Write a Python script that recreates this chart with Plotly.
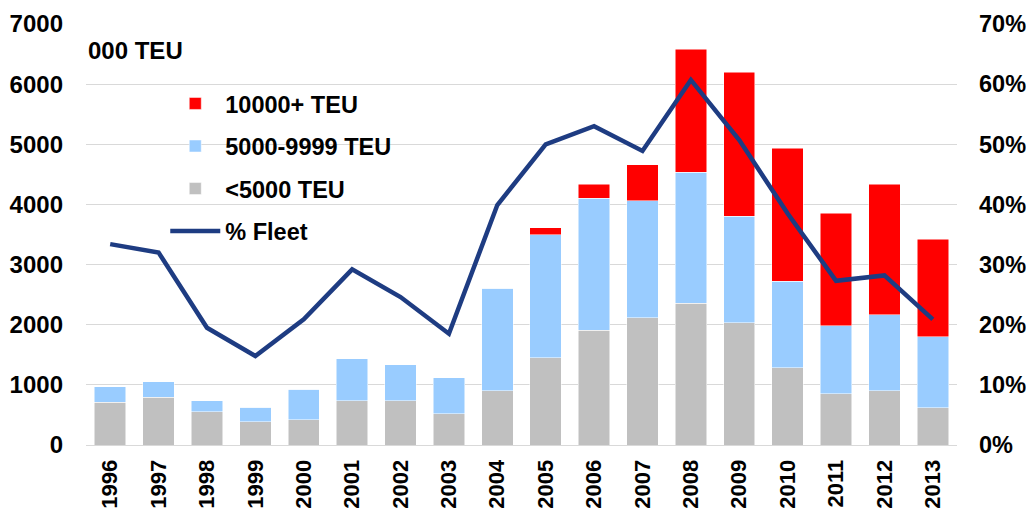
import plotly.graph_objects as go

years = ["1996", "1997", "1998", "1999", "2000", "2001", "2002", "2003", "2004",
         "2005", "2006", "2007", "2008", "2009", "2010", "2011", "2012", "2013"]
small = [710, 793, 555, 389, 416, 732, 732, 522, 905,
         1454, 1908, 2120, 2358, 2030, 1288, 855, 905, 622]
mid = [255, 262, 177, 238, 511, 706, 599, 599, 1702,
       2046, 2192, 1940, 2174, 1775, 1431, 1132, 1258, 1175]
large = [0, 0, 0, 0, 0, 0, 0, 0, 0,
         111, 238, 599, 2047, 2396, 2218, 1863, 2175, 1626]
fleet_pct = [0.334, 0.320, 0.195, 0.148, 0.209, 0.292, 0.246, 0.185, 0.399,
             0.500, 0.530, 0.489, 0.607, 0.507, 0.385, 0.273, 0.282, 0.209]

left_ticks = [0, 1000, 2000, 3000, 4000, 5000, 6000, 7000]
right_ticks = [0, 0.1, 0.2, 0.3, 0.4, 0.5, 0.6, 0.7]

FONT = "Liberation Sans, Arial, sans-serif"
fig = go.Figure()
fig.add_trace(go.Bar(x=years, y=small, name="<5000 TEU", marker_color="#C0C0C0",
                     marker_line=dict(color="white", width=0.5),
                     legendrank=3, legendgroup="c"))
fig.add_trace(go.Bar(x=years, y=mid, name="5000-9999 TEU", marker_color="#99CCFF",
                     marker_line=dict(color="white", width=0.5),
                     legendrank=2, legendgroup="b"))
fig.add_trace(go.Bar(x=years, y=large, name="10000+ TEU", marker_color="#FF0000",
                     marker_line=dict(color="white", width=0.5),
                     legendrank=1, legendgroup="a"))
fig.add_trace(go.Scatter(x=years, y=fleet_pct, name="% Fleet", mode="lines",
                         line=dict(color="#1E3C82", width=4.5), yaxis="y2",
                         legendrank=4, legendgroup="d"))

fig.update_layout(
    width=1026, height=512,
    margin=dict(l=86, r=69, t=24, b=67, autoexpand=False),
    paper_bgcolor="white", plot_bgcolor="white",
    barmode="stack", bargap=0.35,
    font=dict(family=FONT, size=22, color="black"),
    showlegend=True,
    legend=dict(x=0.091, y=0.863, xanchor="left", yanchor="top",
                traceorder="grouped", tracegroupgap=9,
                font=dict(family=FONT, size=23.5, color="black", weight="bold"),
                bgcolor="rgba(0,0,0,0)", itemwidth=50),
    xaxis=dict(type="category", tickangle=-90, showgrid=False, automargin=False,
               showline=True, linecolor="#D9D9D9", linewidth=1,
               tickfont=dict(family=FONT, size=22, weight="bold"),
               ticks="", ticklabelstandoff=5),
    yaxis=dict(range=[0, 7000], tickvals=left_ticks, showgrid=True, automargin=False,
               gridcolor="#D9D9D9", gridwidth=1, zeroline=False, showline=False,
               tickfont=dict(family=FONT, size=24, weight="bold"),
               ticklabelstandoff=22),
    yaxis2=dict(range=[0, 0.7], tickvals=right_ticks, tickformat=".0%", automargin=False,
                overlaying="y", side="right", showgrid=False, zeroline=False,
                showline=False, tickfont=dict(family=FONT, size=23.5, weight="bold"),
                ticklabelstandoff=21),
    annotations=[dict(text="<b>000 TEU</b>", x=0.0, y=0.936, xref="paper", yref="paper",
                      xanchor="left", yanchor="middle", showarrow=False,
                      font=dict(family=FONT, size=24, color="black"))],
)

# remove the page's default body margin so the 1026x512 figure fills the window
fig.write_html("out.html", config={"displayModeBar": False},
               post_script="document.body.style.margin='0';document.body.style.overflow='hidden';")
